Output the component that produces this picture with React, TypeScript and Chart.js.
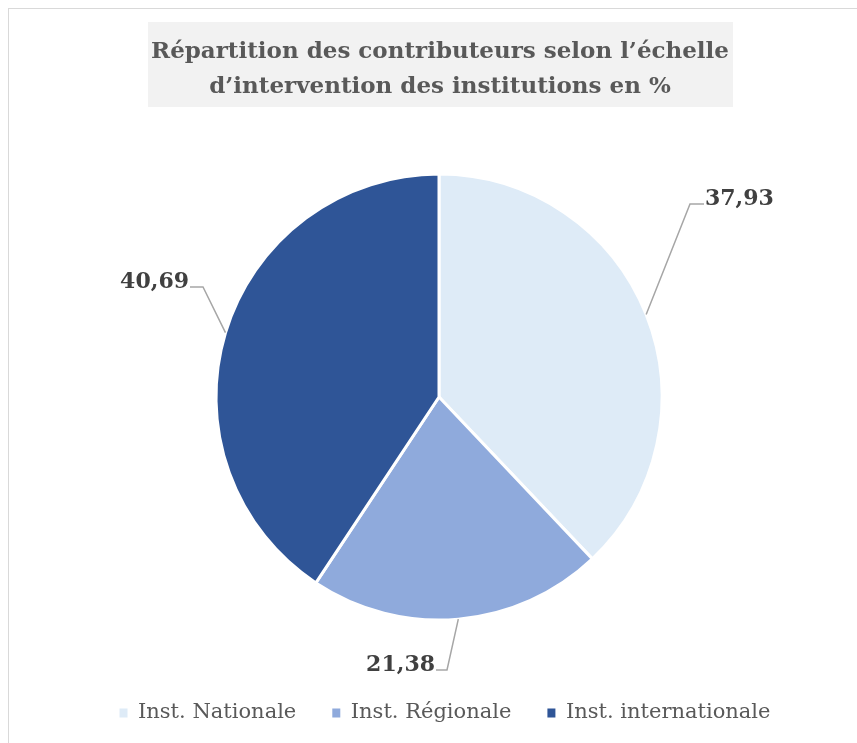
import React, { useEffect, useRef } from "react";
import { Chart, registerables } from "chart.js";

Chart.register(...registerables);

const categories = ["Inst. Nationale", "Inst. Régionale", "Inst. internationale"];
const values = [37.93, 21.38, 40.69];
const colors = ["#DEEBF7", "#8FAADC", "#2F5597"];
const titleLines = [
  "Répartition des contributeurs selon l’échelle",
  "d’intervention des institutions en %",
];

// leader-line layout relative to the pie centre (style, not data)
const labelLayout = [
  { elbow: [251, -193], end: [265, -193], align: "left" },
  { elbow: [8, 273], end: [-3, 273], align: "right" },
  { elbow: [-236, -110], end: [-249, -110], align: "right" },
];

const titlePlugin = {
  id: "titleBox",
  beforeDraw(chart: any) {
    const ctx = chart.ctx;
    ctx.save();
    ctx.fillStyle = "#F2F2F2";
    ctx.fillRect(139, 13, 585, 85);
    ctx.fillStyle = "#595959";
    ctx.font = "bold 23px 'DejaVu Serif'";
    ctx.textAlign = "center";
    ctx.textBaseline = "alphabetic";
    ctx.fillText(titleLines[0], 431, 49);
    ctx.fillText(titleLines[1], 431, 84);
    ctx.restore();
  },
};

const legendShiftPlugin = {
  id: "legendShift",
  afterLayout(chart: any) {
    if (chart.legend) {
      chart.legend.left += 6;
      chart.legend.right += 6;
    }
  },
};

const labelPlugin = {
  id: "leaderLabels",
  afterDatasetsDraw(chart: any) {
    const ctx = chart.ctx;
    const meta = chart.getDatasetMeta(0);
    ctx.save();
    meta.data.forEach((arc: any, i: number) => {
      const p = arc.getProps(["x", "y", "startAngle", "endAngle", "outerRadius"], true);
      const mid = (p.startAngle + p.endAngle) / 2;
      const sx = p.x + Math.cos(mid) * p.outerRadius;
      const sy = p.y + Math.sin(mid) * p.outerRadius;
      const L = labelLayout[i];
      ctx.strokeStyle = "#A6A6A6";
      ctx.lineWidth = 1.5;
      ctx.beginPath();
      ctx.moveTo(sx, sy);
      ctx.lineTo(p.x + L.elbow[0], p.y + L.elbow[1]);
      ctx.lineTo(p.x + L.end[0], p.y + L.end[1]);
      ctx.stroke();
      ctx.fillStyle = "#404040";
      ctx.font = "bold 22px 'DejaVu Serif'";
      ctx.textAlign = L.align;
      ctx.textBaseline = "alphabetic";
      const tx = p.x + L.end[0] + (L.align === "left" ? 1 : -1);
      ctx.fillText(values[i].toFixed(2).replace(".", ","), tx, p.y + L.end[1] + 1);
    });
    ctx.restore();
  },
};

export default function App() {
  const ref = useRef<HTMLCanvasElement>(null);
  useEffect(() => {
    if (!ref.current) return;
    const chart = new Chart(ref.current, {
      type: "pie",
      data: {
        labels: categories,
        datasets: [
          {
            data: values,
            backgroundColor: colors,
            borderColor: "#FFFFFF",
            borderWidth: 3,
            radius: 223,
          },
        ],
      },
      options: {
        responsive: false,
        animation: false,
        layout: { padding: { top: 118.5, bottom: 1.5, left: 20, right: 0 } },
        plugins: {
          tooltip: { enabled: false },
          title: { display: false },
          legend: {
            position: "bottom",
            labels: {
              boxWidth: 8,
              boxHeight: 9,
              padding: 36,
              color: "#595959",
              font: { family: "'DejaVu Serif'", size: 21 },
              generateLabels: (c: any) =>
                (Chart as any).overrides.pie.plugins.legend.labels
                  .generateLabels(c)
                  .map((l: any) => ({ ...l, lineWidth: 0, strokeStyle: "rgba(0,0,0,0)" })),
            },
          },
        },
      } as any,
      plugins: [titlePlugin, legendShiftPlugin, labelPlugin],
    });
    return () => chart.destroy();
  }, []);
  return (
    <div
      style={{
        position: "fixed",
        left: 8,
        top: 8,
        width: 900,
        height: 800,
        borderTop: "1px solid #D9D9D9",
        borderLeft: "1px solid #D9D9D9",
        boxSizing: "border-box",
      }}
    >
      <canvas ref={ref} width={840} height={726} style={{ display: "block", width: 840, height: 726 }} />
    </div>
  );
}
